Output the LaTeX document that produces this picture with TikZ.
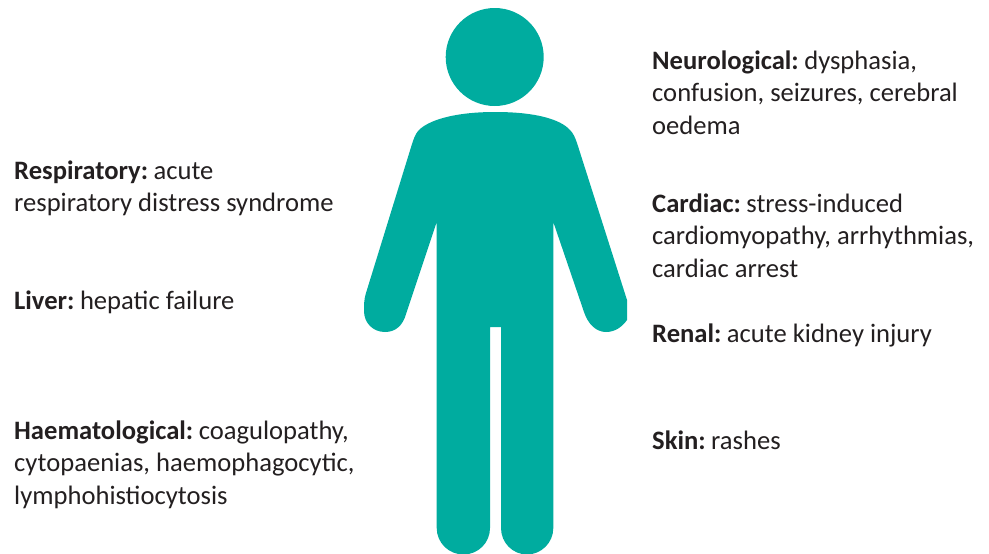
\documentclass[tikz,border=0pt]{standalone}
\usepackage{fontspec}
\setmainfont{Carlito}
\usepackage{tikz}
\definecolor{figteal}{HTML}{00AC9F}
\definecolor{labeltext}{HTML}{231F20}
\newcommand{\lblhead}[1]{\textbf{#1}\hspace{-2.5pt}}

\begin{document}
\begin{tikzpicture}[x=1pt, y=-1pt,
      lbl/.style={anchor=north west, inner sep=0pt, align=left, text=labeltext, font=\fontsize{26.6}{32.5}\selectfont}]
    \useasboundingbox (0,0) rectangle (989,554);
    \fill[figteal] (494.7,57) ellipse [x radius=49, y radius=49];
    \fill[figteal] (495,112) .. controls (455,112) and (428,120) .. (418,131)
      .. controls (415,135) and (414,138) .. (412,144) -- (366,293)
      .. controls (364,299) and (364,305) .. (364,311)
      .. controls (364,323) and (373,332) .. (385,332)
      .. controls (396,332) and (403,325) .. (406,314) -- (436.7,222) -- (436.7,528)
      .. controls (436.7,543) and (449,554.5) .. (463.4,554.5)
      .. controls (478,554.5) and (490,543) .. (490,528) -- (490,327) -- (501,327) -- (501,528)
      .. controls (501,543) and (513,554.5) .. (527,554.5)
      .. controls (541,554.5) and (553.3,543) .. (553.3,528) -- (553.3,222) -- (584,312)
      .. controls (588,324) and (596,332) .. (606,332)
      .. controls (615,332) and (622,327) .. (627,320) -- (627,300) -- (577,143)
      .. controls (575,137) and (573,133) .. (570,130)
      .. controls (560,119) and (535,112) .. (495,112) -- cycle;
    \node[lbl] (respiratory) at (14,160.5) {\lblhead{Respiratory:} acute\\respiratory distress syndrome};
    \node[lbl] (liver) at (14,290.5) {\lblhead{Liver:} hepatic failure};
    \node[lbl] (haem) at (14,420.5) {\lblhead{Haematological:} coagulopathy,\\cytopaenias, haemophagocytic,\\lymphohistiocytosis};
    \node[lbl] (neuro) at (652,50.5) {\lblhead{Neurological:} dysphasia,\\confusion, seizures, cerebral\\oedema};
    \node[lbl] (cardiac) at (652,193.5) {\lblhead{Cardiac:} stress-induced\\cardiomyopathy, arrhythmias,\\cardiac arrest};
    \node[lbl] (renal) at (652,323.5) {\lblhead{Renal:} acute kidney injury};
    \node[lbl] (skin) at (652,430.5) {\lblhead{Skin:} rashes};
  \end{tikzpicture}
\end{document}
